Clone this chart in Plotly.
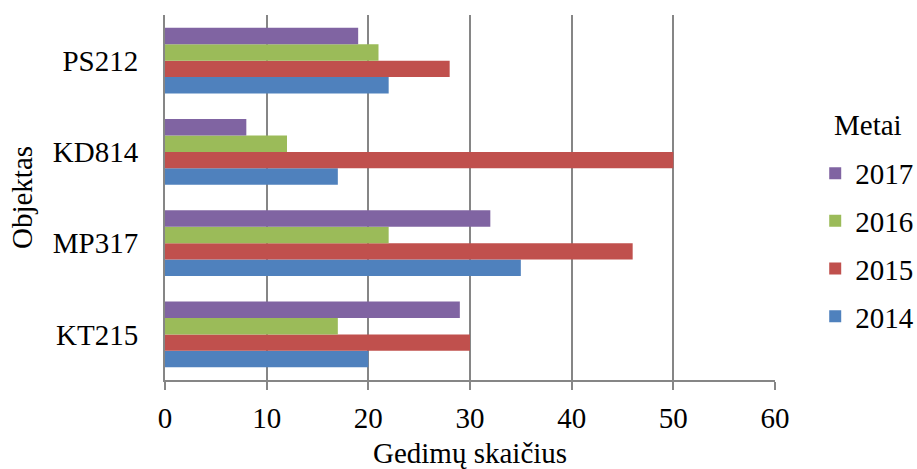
import plotly.graph_objects as go

categories = ["KT215", "MP317", "KD814", "PS212"]
years = ["2014", "2015", "2016", "2017"]
values_2014 = [20, 35, 17, 22]
values_2015 = [30, 46, 50, 28]
values_2016 = [17, 22, 12, 21]
values_2017 = [29, 32, 8, 19]
series_values = [values_2014, values_2015, values_2016, values_2017]
colors = ["#4F81BD", "#C0504D", "#9BBB59", "#8064A2"]
x_ticks = [0, 10, 20, 30, 40, 50, 60]
legend_title = "Metai"
x_title = "Gedimų skaičius"
y_title = "Objektas"

FONT = "Liberation Serif"
GRID = "#868686"
FS = 29

fig = go.Figure()
for i, (name, vals, col) in enumerate(zip(years, series_values, colors)):
    fig.add_trace(go.Bar(
        y=categories, x=vals, name=name, orientation="h",
        marker=dict(color=col, line=dict(width=0)),
        legendgroup=name, legendrank=len(years) - i,
    ))

fig.add_annotation(
    text=legend_title, xref="paper", yref="paper",
    x=(868 - 165) / 610, y=1 - (125 - 15) / 365,
    xanchor="center", yanchor="middle", showarrow=False,
    font=dict(family=FONT, size=FS, color="black"),
)
fig.add_annotation(
    text=x_title, xref="paper", yref="paper",
    x=0.5, y=(380 - 471) / 365,
    xanchor="center", yanchor="bottom", showarrow=False,
    font=dict(family=FONT, size=FS, color="black"),
)

fig.update_layout(
    width=917, height=469,
    margin=dict(l=165, r=142, t=15, b=89, autoexpand=False),
    paper_bgcolor="white", plot_bgcolor="white",
    font=dict(family=FONT, size=FS, color="black"),
    barmode="group", bargap=0.277, bargroupgap=0,
    showlegend=True,
    legend=dict(
        traceorder="grouped", tracegroupgap=7,
        xref="container", yref="container",
        x=0.889, xanchor="left", y=0.478, yanchor="middle",
        font=dict(family=FONT, size=FS), itemwidth=30,
        bgcolor="rgba(0,0,0,0)",
    ),
    xaxis=dict(
        range=[0, 60], tickvals=x_ticks, ticktext=[str(t) for t in x_ticks],
        showgrid=True, gridcolor=GRID, gridwidth=2,
        zeroline=False,
        showline=True, linecolor=GRID, linewidth=2,
        ticks="outside", ticklen=8, tickwidth=2, tickcolor=GRID,
        ticklabelstandoff=3,
        tickfont=dict(family=FONT, size=FS),
    ),
    yaxis=dict(
        categoryorder="array", categoryarray=categories,
        showgrid=False, zeroline=False,
        showline=True, linecolor=GRID, linewidth=2,
        ticks="", ticklabelstandoff=19,
        title=dict(text=y_title, standoff=12, font=dict(family=FONT, size=FS, color="black")),
        tickfont=dict(family=FONT, size=FS),
    ),
)

fig.write_html("out.html")
